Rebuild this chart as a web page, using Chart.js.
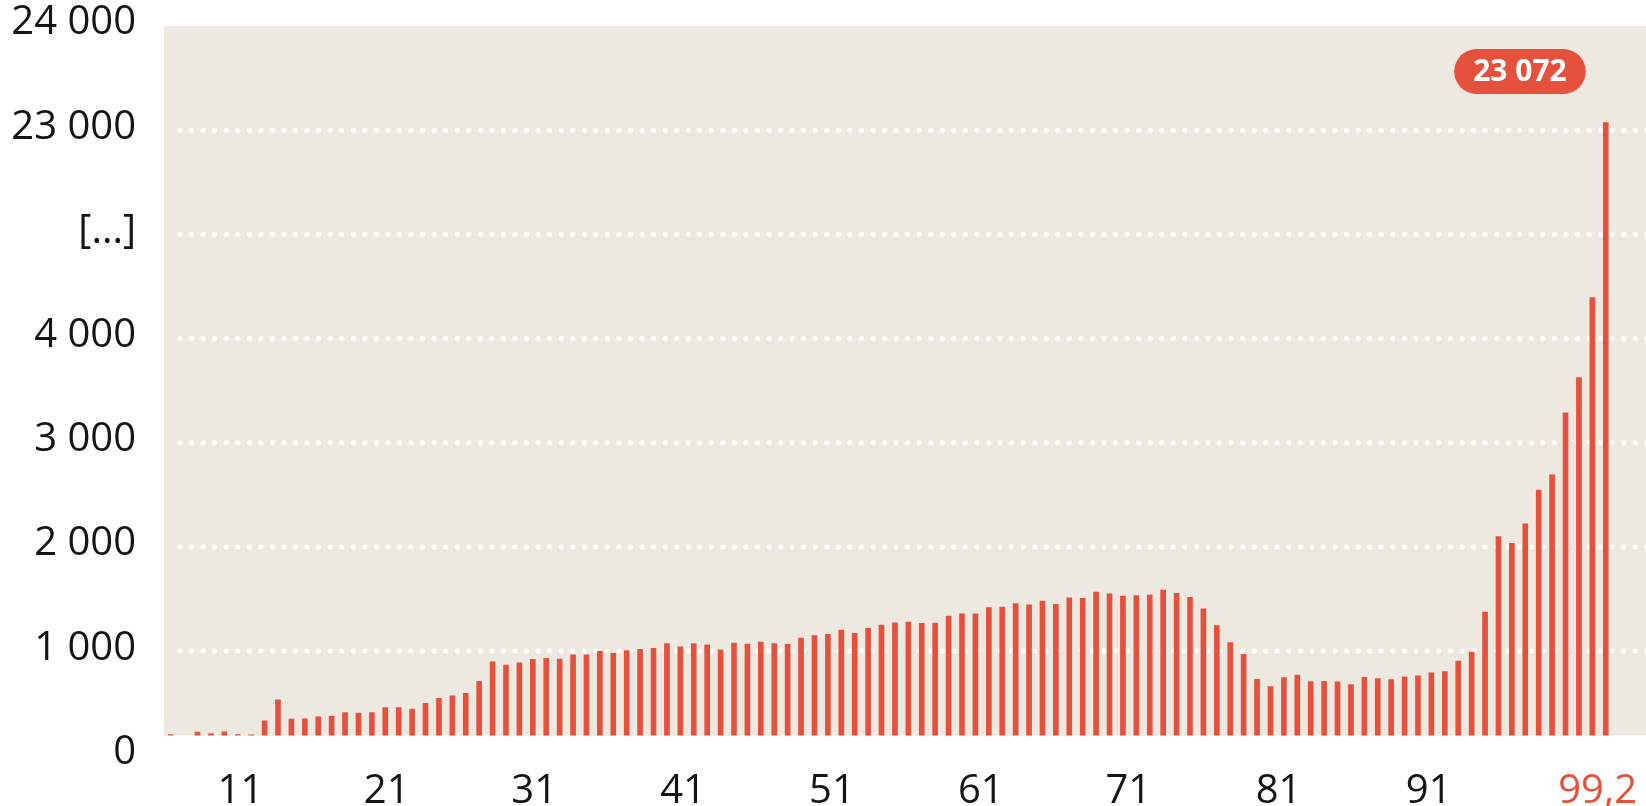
<!DOCTYPE html>
<html>
<head>
<meta charset="utf-8">
<script src="https://cdn.jsdelivr.net/npm/chart.js@4"></script>
<style>
  html, body { margin: 0; padding: 0; background: #ffffff; }
  #wrap { width: 1646px; height: 806px; position: relative; }
</style>
</head>
<body>
<div id="wrap"><canvas id="c"></canvas></div>
<script>
// ---- data ----
const barValues = [
  200, null, 223, 207, 226, 200, 197, 331, 533, 347,
  351, 370, 376, 411, 405, 411, 459, 459, 443, 498,
  546, 571, 594, 709, 898, 866, 888, 920, 930, 923,
  965, 965, 997, 978, 1006, 1016, 1026, 1073, 1041, 1073,
  1061, 1013, 1077, 1067, 1086, 1073, 1064, 1125, 1150, 1160,
  1202, 1170, 1218, 1250, 1272, 1278, 1266, 1268, 1336, 1358,
  1358, 1419, 1422, 1457, 1445, 1480, 1448, 1512, 1506, 1566,
  1550, 1528, 1534, 1538, 1585, 1554, 1515, 1406, 1246, 1082,
  970, 730, 660, 746, 769, 708, 711, 705, 679, 749,
  737, 727, 752, 763, 792, 804, 904, 990, 1374, 2100,
  2035, 2221, 2545, 2692, 3288, 3625, 4393, 23072
];
const barIndex = barValues.map((v, i) => i);

// x-axis tick labels and where they sit (in bar-index units)
const xTickLabels = ['11', '21', '31', '41', '51', '61', '71', '81', '91', '99,2'];
const xTickAt     = [5.2, 16.1, 27.1, 38.2, 49.3, 60.4, 71.4, 82.6, 93.8, 106.4];

// broken y axis: value stops and their slot on the axis
const yTickLabels = ['0', '1 000', '2 000', '3 000', '4 000', '[...]', '23 000', '24 000'];
const breakValues = [0, 5000, 23000, 24000];
const breakSlots  = [0, 5, 6, 7];
const yFloorValue = 190;

const highlightLabel = '23 072';

// ---- styling ----
const RED = '#e5513d';
const BEIGE = '#ede9e1';
const INK = '#141414';
const FONT = "'Open Sans', 'Noto Sans', sans-serif";

function toSlot(v) {
  if (v === null) return null;
  for (let k = 1; k < breakValues.length; k++) {
    if (v <= breakValues[k] || k === breakValues.length - 1) {
      const t = (v - breakValues[k - 1]) / (breakValues[k] - breakValues[k - 1]);
      return breakSlots[k - 1] + t * (breakSlots[k] - breakSlots[k - 1]);
    }
  }
}

const points = barIndex.map((x, i) => ({ x: x, y: toSlot(barValues[i]) }));

const bgPlugin = {
  id: 'bg',
  beforeDraw(chart) {
    const { ctx, chartArea: a } = chart;
    ctx.save();
    ctx.fillStyle = BEIGE;
    ctx.fillRect(a.left, a.top, a.right - a.left, a.bottom - a.top);
    ctx.restore();
  }
};

const dotGridPlugin = {
  id: 'dotGrid',
  beforeDatasetsDraw(chart) {
    const { ctx, chartArea: a, scales } = chart;
    const y = scales.y;
    ctx.save();
    ctx.fillStyle = '#ffffff';
    for (let s = 1; s < yTickLabels.length - 1; s++) {
      const py = y.getPixelForValue(s);
      for (let px = a.left + 16; px < a.right + 2; px += 11.55) {
        ctx.beginPath();
        ctx.arc(px, py, 2.5, 0, Math.PI * 2);
        ctx.fill();
      }
    }
    ctx.restore();
  }
};

const pillPlugin = {
  id: 'pill',
  afterDatasetsDraw(chart) {
    const { ctx, chartArea: a } = chart;
    const meta = chart.getDatasetMeta(0);
    const bar = meta.data[meta.data.length - 1];
    ctx.save();
    ctx.font = "bold 30px " + FONT;
    const tw = ctx.measureText(highlightLabel).width;
    const w = tw + 38, h = 45;
    const right = bar.x - 20;
    const left = right - w;
    const top = a.top + 23;
    const r = h / 2;
    ctx.fillStyle = RED;
    ctx.beginPath();
    ctx.moveTo(left + r, top);
    ctx.lineTo(right - r, top);
    ctx.arc(right - r, top + r, r, -Math.PI / 2, Math.PI / 2);
    ctx.lineTo(left + r, top + h);
    ctx.arc(left + r, top + r, r, Math.PI / 2, Math.PI * 1.5);
    ctx.closePath();
    ctx.fill();
    ctx.fillStyle = '#ffffff';
    ctx.textAlign = 'center';
    ctx.textBaseline = 'middle';
    ctx.fillText(highlightLabel, (left + right) / 2, top + h / 2 + 1);
    ctx.restore();
  }
};

new Chart(document.getElementById('c'), {
  type: 'bar',
  data: {
    datasets: [{
      data: points,
      backgroundColor: RED,
      borderWidth: 0,
      barThickness: 5
    }]
  },
  options: {
    responsive: true,
    maintainAspectRatio: false,
    animation: false,
    events: [],
    layout: { padding: { top: 26, right: 0, left: 0, bottom: 0 } },
    plugins: { legend: { display: false }, tooltip: { enabled: false } },
    scales: {
      x: {
        type: 'linear',
        offset: false,
        min: -0.5,
        max: 110,
        grid: { display: false, drawTicks: false },
        border: { display: false },
        afterBuildTicks(axis) { axis.ticks = xTickAt.map(v => ({ value: v })); },
        afterFit(axis) { axis.height = 70.5; axis.paddingLeft = 0; axis.paddingRight = 0; },
        ticks: {
          autoSkip: false,
          maxRotation: 0,
          padding: 32,
          font: { family: FONT, size: 40 },
          color: (c) => c.index === xTickLabels.length - 1 ? RED : INK,
          callback: (v, i) => xTickLabels[i]
        }
      },
      y: {
        type: 'linear',
        min: toSlot(yFloorValue),
        max: breakSlots[breakSlots.length - 1],
        grid: { display: false, drawTicks: false },
        border: { display: false },
        afterBuildTicks(axis) { axis.ticks = yTickLabels.map((t, i) => ({ value: i })); },
        afterFit(axis) { axis.width = 164; axis.paddingTop = 0; axis.paddingBottom = 0; },
        ticks: {
          autoSkip: false,
          padding: 28,
          labelOffset: -3,
          font: { family: FONT, size: 40 },
          color: INK,
          callback: (v, i) => yTickLabels[i]
        }
      }
    }
  },
  plugins: [bgPlugin, dotGridPlugin, pillPlugin]
});
</script>
</body>
</html>
